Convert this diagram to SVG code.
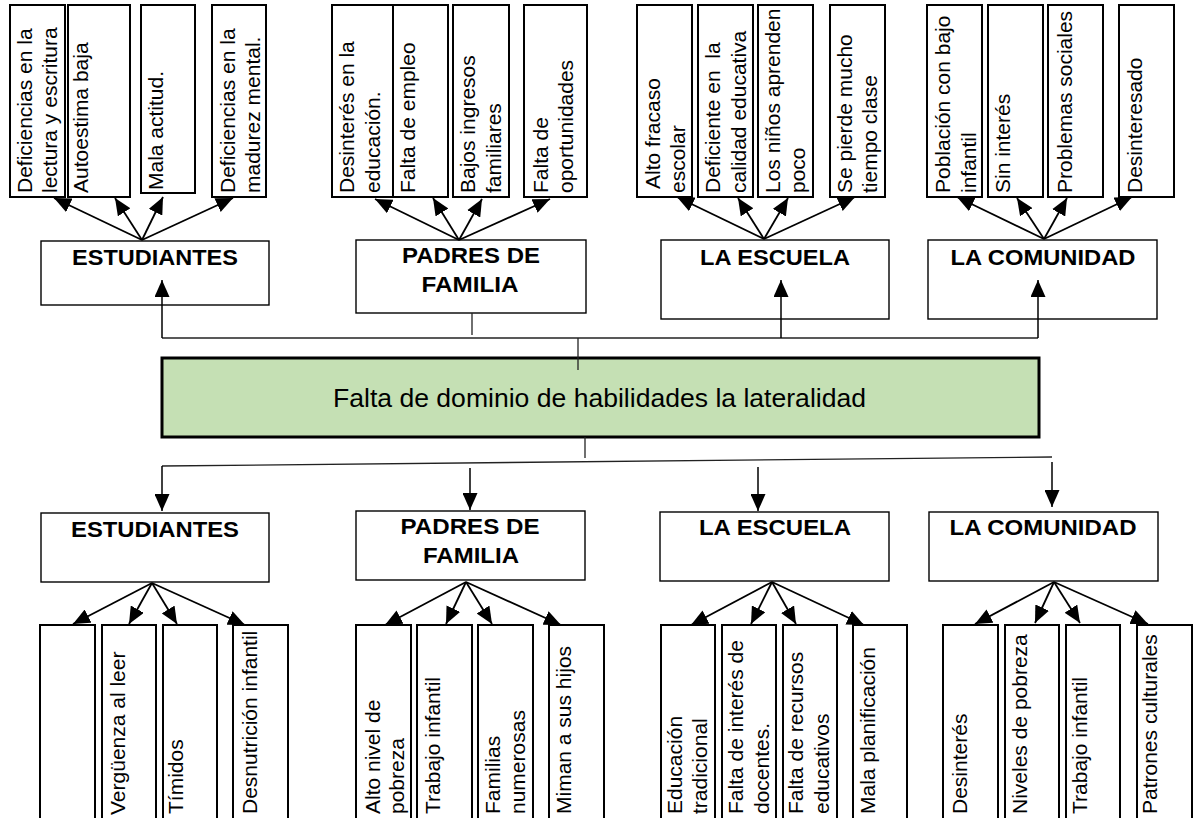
<svg xmlns="http://www.w3.org/2000/svg" width="1196" height="818" viewBox="0 0 1196 818">
<defs>
<marker id="ah" markerUnits="userSpaceOnUse" markerWidth="17" markerHeight="15" refX="17" refY="7.5" orient="auto" viewBox="0 0 17 15">
<path d="M0,0 L17,7.5 L0,15 Z" fill="#000"/>
</marker>
<style>
.sb{fill:#fff;stroke:#000;stroke-width:2}
.hb{fill:#fff;stroke:#000;stroke-width:1.4}
.vt{font-family:"Liberation Sans",Arial,sans-serif;font-size:21px;fill:#000}
.ht{font-family:"Liberation Sans",Arial,sans-serif;font-size:21.5px;font-weight:bold;fill:#000;text-anchor:middle}
.fan{stroke:#000;stroke-width:1.8;fill:none;marker-end:url(#ah)}
.cn{stroke:#222;stroke-width:1.3;fill:none}
.ca{stroke:#000;stroke-width:1.5;fill:none;marker-end:url(#ah)}
</style>
</defs>
<rect width="1196" height="818" fill="#fff"/>

<!-- Top row small boxes -->
<g id="top-est-1"><rect class="sb" x="10" y="5" width="55" height="192"/><text class="vt" transform="translate(32,193) rotate(-90)">Deficiencias en la<tspan x="0" dy="25">lectura y escritura</tspan></text></g>
<g id="top-est-2"><rect class="sb" x="68" y="5" width="62" height="192"/><text class="vt" transform="translate(88,193) rotate(-90)">Autoestima baja</text></g>
<g id="top-est-3"><rect class="sb" x="141" y="5" width="54" height="188"/><text class="vt" transform="translate(163,190) rotate(-90)">Mala actitud.</text></g>
<g id="top-est-4"><rect class="sb" x="212" y="5" width="54" height="192"/><text class="vt" transform="translate(235,193) rotate(-90)">Deficiencias en la<tspan x="0" dy="25">madurez mental.</tspan></text></g>

<g id="top-pad-1"><rect class="sb" x="332" y="5" width="61" height="192"/><text class="vt" transform="translate(354,193) rotate(-90)">Desinterés en la<tspan x="0" dy="26">educación.</tspan></text></g>
<g id="top-pad-2"><rect class="sb" x="393" y="5" width="55" height="192"/><text class="vt" transform="translate(415,193) rotate(-90)">Falta de empleo</text></g>
<g id="top-pad-3"><rect class="sb" x="453" y="5" width="56" height="192"/><text class="vt" transform="translate(475,193) rotate(-90)">Bajos ingresos<tspan x="0" dy="26">familiares</tspan></text></g>
<g id="top-pad-4"><rect class="sb" x="524" y="5" width="63" height="192"/><text class="vt" transform="translate(548,193) rotate(-90)">Falta de<tspan x="0" dy="25">oportunidades</tspan></text></g>

<g id="top-esc-1"><rect class="sb" x="637" y="5" width="55" height="192"/><text class="vt" transform="translate(660,189) rotate(-90)">Alto fracaso<tspan x="-4" dy="25">escolar</tspan></text></g>
<g id="top-esc-2"><rect class="sb" x="698" y="5" width="55" height="192"/><text class="vt" transform="translate(720,193) rotate(-90)" xml:space="preserve">Deficiente en  la<tspan x="0" dy="26">calidad educativa</tspan></text></g>
<g id="top-esc-3"><rect class="sb" x="758" y="5" width="55" height="192"/><text class="vt" transform="translate(780,193) rotate(-90)">Los niños aprenden<tspan x="0" dy="25">poco</tspan></text></g>
<g id="top-esc-4"><rect class="sb" x="830" y="5" width="55" height="192"/><text class="vt" transform="translate(852,193) rotate(-90)">Se pierde mucho<tspan x="0" dy="25">tiempo clase</tspan></text></g>

<g id="top-com-1"><rect class="sb" x="927" y="5" width="55" height="192"/><text class="vt" transform="translate(950,193) rotate(-90)">Población con bajo<tspan x="0" dy="26">infantil</tspan></text></g>
<g id="top-com-2"><rect class="sb" x="988" y="5" width="55" height="192"/><text class="vt" transform="translate(1010,193) rotate(-90)">Sin interés</text></g>
<g id="top-com-3"><rect class="sb" x="1048" y="5" width="55" height="192"/><text class="vt" transform="translate(1072,193) rotate(-90)">Problemas sociales</text></g>
<g id="top-com-4"><rect class="sb" x="1119" y="5" width="55" height="192"/><text class="vt" transform="translate(1142,193) rotate(-90)">Desinteresado</text></g>

<!-- Top headers -->
<g id="top-estudiantes"><rect class="hb" x="41" y="241" width="228" height="64"/><text class="ht" x="155" y="265" textLength="166" lengthAdjust="spacingAndGlyphs">ESTUDIANTES</text></g>
<g id="top-padres"><rect class="hb" x="356" y="240" width="230" height="73"/><text class="ht" x="471" y="263" textLength="138" lengthAdjust="spacingAndGlyphs">PADRES DE</text><text class="ht" x="470" y="292" textLength="97" lengthAdjust="spacingAndGlyphs">FAMILIA</text></g>
<g id="top-escuela"><rect class="hb" x="661" y="240" width="228" height="79"/><text class="ht" x="775" y="265" textLength="150" lengthAdjust="spacingAndGlyphs">LA ESCUELA</text></g>
<g id="top-comunidad"><rect class="hb" x="928" y="240" width="229" height="79"/><text class="ht" x="1043" y="265" textLength="185" lengthAdjust="spacingAndGlyphs">LA COMUNIDAD</text></g>

<!-- Central problem -->
<g id="problema"><rect x="162" y="358" width="877" height="79" fill="#c5e0b4" stroke="#000" stroke-width="3"/><text x="333" y="407" font-family="Liberation Sans, Arial, sans-serif" font-size="26" textLength="533" lengthAdjust="spacingAndGlyphs" fill="#000">Falta de dominio de habilidades la lateralidad</text></g>

<!-- Bottom headers -->
<g id="bot-estudiantes"><rect class="hb" x="41" y="513" width="228" height="69"/><text class="ht" x="155" y="537" textLength="168" lengthAdjust="spacingAndGlyphs">ESTUDIANTES</text></g>
<g id="bot-padres"><rect class="hb" x="356" y="511" width="229" height="69"/><text class="ht" x="470" y="534" textLength="139" lengthAdjust="spacingAndGlyphs">PADRES DE</text><text class="ht" x="471" y="563" textLength="96" lengthAdjust="spacingAndGlyphs">FAMILIA</text></g>
<g id="bot-escuela"><rect class="hb" x="660" y="512" width="229" height="69"/><text class="ht" x="775" y="535" textLength="152" lengthAdjust="spacingAndGlyphs">LA ESCUELA</text></g>
<g id="bot-comunidad"><rect class="hb" x="929" y="512" width="229" height="69"/><text class="ht" x="1043" y="535" textLength="187" lengthAdjust="spacingAndGlyphs">LA COMUNIDAD</text></g>

<!-- Bottom row small boxes -->
<g id="bot-est-1"><rect class="sb" x="40" y="625" width="55" height="200"/></g>
<g id="bot-est-2"><rect class="sb" x="102" y="625" width="54" height="200"/><text class="vt" transform="translate(125,815) rotate(-90)">Vergüenza al leer</text></g>
<g id="bot-est-3"><rect class="sb" x="163" y="625" width="54" height="200"/><text class="vt" transform="translate(183,814) rotate(-90)">Tímidos</text></g>
<g id="bot-est-4"><rect class="sb" x="233" y="625" width="55" height="200"/><text class="vt" transform="translate(257,814) rotate(-90)">Desnutrición infantil</text></g>

<g id="bot-pad-1"><rect class="sb" x="356" y="625" width="55" height="200"/><text class="vt" transform="translate(380,814) rotate(-90)">Alto nivel de<tspan x="0" dy="24">pobreza</tspan></text></g>
<g id="bot-pad-2"><rect class="sb" x="417" y="625" width="55" height="200"/><text class="vt" transform="translate(440,814) rotate(-90)">Trabajo infantil</text></g>
<g id="bot-pad-3"><rect class="sb" x="478" y="625" width="55" height="200"/><text class="vt" transform="translate(500,814) rotate(-90)">Familias<tspan x="0" dy="25">numerosas</tspan></text></g>
<g id="bot-pad-4"><rect class="sb" x="549" y="625" width="55" height="200"/><text class="vt" transform="translate(571,814) rotate(-90)">Miman a sus hijos</text></g>

<g id="bot-esc-1"><rect class="sb" x="661" y="625" width="54" height="200"/><text class="vt" transform="translate(682,814) rotate(-90)">Educación<tspan x="0" dy="25">tradicional</tspan></text></g>
<g id="bot-esc-2"><rect class="sb" x="722" y="625" width="54" height="200"/><text class="vt" transform="translate(743,814) rotate(-90)">Falta de interés de<tspan x="0" dy="26">docentes.</tspan></text></g>
<g id="bot-esc-3"><rect class="sb" x="783" y="625" width="54" height="200"/><text class="vt" transform="translate(803,814) rotate(-90)">Falta de recursos<tspan x="0" dy="26">educativos</tspan></text></g>
<g id="bot-esc-4"><rect class="sb" x="853" y="625" width="54" height="200"/><text class="vt" transform="translate(875,814) rotate(-90)">Mala planificación</text></g>

<g id="bot-com-1"><rect class="sb" x="943" y="625" width="55" height="200"/><text class="vt" transform="translate(967,814) rotate(-90)">Desinterés</text></g>
<g id="bot-com-2"><rect class="sb" x="1005" y="625" width="54" height="200"/><text class="vt" transform="translate(1027,814) rotate(-90)">Niveles de pobreza</text></g>
<g id="bot-com-3"><rect class="sb" x="1066" y="625" width="54" height="200"/><text class="vt" transform="translate(1087,814) rotate(-90)">Trabajo infantil</text></g>
<g id="bot-com-4"><rect class="sb" x="1137" y="625" width="55" height="200"/><text class="vt" transform="translate(1157,814) rotate(-90)">Patrones culturales</text></g>

<!-- Connectors -->
<g id="connectors">
<line class="fan" x1="142" y1="240" x2="54" y2="198"/>
<line class="fan" x1="142" y1="240" x2="115" y2="198"/>
<line class="fan" x1="142" y1="240" x2="163" y2="197"/>
<line class="fan" x1="142" y1="240" x2="233" y2="198"/>
<line class="fan" x1="459" y1="240" x2="375" y2="199"/>
<line class="fan" x1="459" y1="240" x2="433" y2="198"/>
<line class="fan" x1="459" y1="240" x2="482" y2="199"/>
<line class="fan" x1="459" y1="240" x2="550" y2="199"/>
<line class="fan" x1="764" y1="239" x2="677" y2="197"/>
<line class="fan" x1="764" y1="239" x2="738" y2="198"/>
<line class="fan" x1="764" y1="239" x2="788" y2="198"/>
<line class="fan" x1="764" y1="239" x2="855" y2="197"/>
<line class="fan" x1="1044" y1="239" x2="957" y2="197"/>
<line class="fan" x1="1044" y1="239" x2="1017" y2="198"/>
<line class="fan" x1="1044" y1="239" x2="1067" y2="198"/>
<line class="fan" x1="1044" y1="239" x2="1132" y2="197"/>
<polyline class="cn" points="578,370 578,338"/>
<polyline class="cn" points="162,338 1038,338"/>
<line class="ca" x1="162" y1="338" x2="162" y2="280"/>
<line class="cn" x1="472" y1="313" x2="472" y2="335"/>
<line class="ca" x1="781" y1="338" x2="781" y2="280"/>
<line class="ca" x1="1038" y1="338" x2="1038" y2="280"/>
<line class="cn" x1="585" y1="437" x2="585" y2="458" stroke-width="1.6"/>
<line class="cn" x1="162" y1="466" x2="1052" y2="457" stroke-width="1.8" stroke="#000"/>
<line class="ca" x1="162" y1="466" x2="162" y2="511"/>
<line class="ca" x1="470" y1="468" x2="470" y2="510"/>
<line class="ca" x1="758" y1="467" x2="758" y2="511"/>
<line class="ca" x1="1052" y1="462" x2="1052" y2="507"/>
<line class="fan" x1="152" y1="583" x2="73" y2="624"/>
<line class="fan" x1="152" y1="583" x2="129" y2="624"/>
<line class="fan" x1="152" y1="583" x2="177" y2="624"/>
<line class="fan" x1="152" y1="583" x2="245" y2="625"/>
<line class="fan" x1="466" y1="582" x2="385" y2="625"/>
<line class="fan" x1="466" y1="582" x2="446" y2="624"/>
<line class="fan" x1="466" y1="582" x2="492" y2="624"/>
<line class="fan" x1="466" y1="582" x2="561" y2="625"/>
<line class="fan" x1="772" y1="582" x2="691" y2="625"/>
<line class="fan" x1="772" y1="582" x2="751" y2="624"/>
<line class="fan" x1="772" y1="582" x2="796" y2="624"/>
<line class="fan" x1="772" y1="582" x2="864" y2="625"/>
<line class="fan" x1="1054" y1="582" x2="975" y2="624"/>
<line class="fan" x1="1054" y1="582" x2="1035" y2="623"/>
<line class="fan" x1="1054" y1="582" x2="1080" y2="623"/>
<line class="fan" x1="1054" y1="582" x2="1148" y2="624"/>
</g>
</svg>
